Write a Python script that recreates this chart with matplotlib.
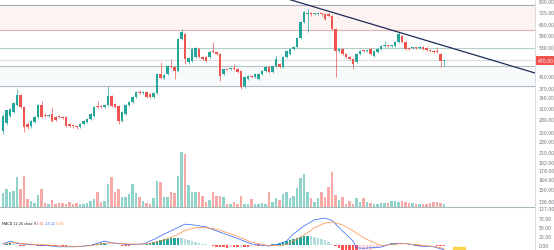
import numpy as np
import matplotlib
matplotlib.use('Agg')
import matplotlib.pyplot as plt
import matplotlib.transforms as mtransforms
from matplotlib.patches import Rectangle

# daily candles (price, log scale)
opens = [252, 271, 288, 299, 318, 347, 312, 268, 264, 273,
         286, 318, 291, 288, 293, 286, 288, 286, 286, 268,
         266, 264, 261, 268, 273, 281, 288, 315, 315, 312,
         318, 344, 321, 315, 276, 293, 318, 326, 341, 357,
         353, 357, 350, 341, 353, 418, 404, 418, 449, 445,
         430, 571, 597, 465, 470, 487, 522, 487, 487, 487,
         510, 509, 500, 418, 437, 436, 437, 437, 430, 376,
         400, 411, 407, 400, 418, 430, 445, 426, 449, 457,
         445, 487, 500, 522, 532, 576, 664, 713, 713, 713,
         712, 713, 713, 713, 700, 624, 513, 522, 500, 487,
         478, 465, 500, 513, 512, 522, 491, 509, 522, 536,
         537, 536, 536, 556, 586, 556, 527, 527, 528, 527,
         532, 527, 518, 513, 509, 500, 470]
closes = [288, 304, 307, 323, 347, 312, 261, 261, 276, 286,
          318, 286, 288, 291, 276, 278, 286, 283, 264, 264,
          264, 261, 268, 276, 281, 293, 312, 312, 312, 318,
          344, 315, 312, 276, 299, 318, 326, 341, 357, 353,
          357, 341, 341, 353, 418, 404, 415, 449, 445, 430,
          571, 607, 478, 482, 522, 527, 487, 478, 470, 509,
          508, 500, 411, 437, 435, 438, 436, 426, 373, 407,
          411, 409, 418, 418, 430, 445, 426, 449, 478, 445,
          487, 513, 522, 532, 576, 664, 726, 715, 711, 714,
          713, 712, 682, 700, 624, 513, 522, 500, 487, 478,
          457, 500, 513, 512, 513, 500, 513, 522, 536, 537,
          536, 538, 556, 597, 556, 522, 522, 528, 527, 528,
          522, 518, 513, 509, 508, 470, 472]
highs = [293, 299, 309, 326, 366, 350, 315, 273, 278, 288,
         321, 329, 296, 293, 312, 288, 291, 288, 288, 271,
         268, 266, 271, 278, 283, 296, 315, 329, 318, 321,
         376, 347, 323, 318, 301, 321, 329, 344, 360, 363,
         360, 360, 353, 357, 422, 465, 418, 453, 478, 449,
         576, 624, 602, 487, 527, 532, 527, 491, 491, 513,
         556, 513, 504, 441, 441, 441, 457, 441, 433, 411,
         415, 415, 422, 422, 433, 449, 449, 453, 491, 461,
         491, 518, 527, 536, 581, 670, 732, 745, 726, 719,
         719, 719, 719, 719, 706, 629, 527, 527, 504, 491,
         482, 504, 518, 518, 518, 527, 518, 527, 541, 561,
         541, 541, 561, 607, 592, 561, 532, 532, 532, 536,
         536, 532, 522, 518, 532, 504, 474]
lows = [246, 266, 286, 296, 315, 309, 250, 257, 259, 271,
        283, 283, 286, 286, 273, 276, 283, 281, 261, 261,
        259, 257, 259, 266, 271, 278, 286, 309, 309, 309,
        315, 312, 309, 268, 273, 291, 315, 323, 338, 350,
        350, 338, 338, 338, 350, 400, 400, 415, 441, 400,
        426, 566, 457, 457, 465, 482, 482, 474, 465, 482,
        504, 495, 393, 415, 433, 433, 433, 422, 366, 369,
        397, 404, 404, 397, 415, 426, 422, 422, 445, 441,
        441, 482, 495, 518, 527, 571, 658, 607, 700, 706,
        706, 700, 676, 694, 618, 407, 509, 495, 482, 474,
        437, 461, 495, 509, 509, 495, 487, 504, 518, 532,
        532, 532, 532, 551, 551, 518, 518, 522, 522, 522,
        518, 513, 509, 504, 504, 445, 449]
# volume in millions
volumes = [1.4, 1.8, 1.5, 1.6, 3.0, 1.8, 3.1, 0.8, 0.6, 0.4,
           1.2, 1.8, 0.4, 0.3, 0.7, 0.3, 0.4, 0.4, 0.3, 0.5,
           0.3, 0.4, 0.3, 0.3, 0.4, 0.6, 0.8, 1.5, 0.5, 0.6,
           2.3, 3.0, 1.5, 1.8, 1.0, 1.0, 1.3, 2.3, 1.4, 1.0,
           0.6, 0.4, 0.3, 0.9, 2.6, 2.5, 1.0, 1.0, 1.5, 1.4,
           3.1, 5.5, 5.3, 2.2, 1.5, 1.5, 1.5, 1.1, 0.5, 0.7,
           1.5, 1.1, 1.1, 1.0, 0.3, 0.3, 0.5, 0.3, 1.1, 0.3,
           0.3, 0.8, 0.3, 0.3, 0.4, 0.3, 1.5, 0.5, 0.9, 0.7,
           1.3, 1.5, 0.9, 1.1, 1.9, 2.9, 3.3, 1.5, 0.9, 0.5,
           0.9, 1.5, 1.0, 2.0, 3.5, 1.2, 0.7, 1.0, 0.3, 0.6,
           0.3, 0.9, 0.5, 0.9, 0.5, 0.4, 0.3, 0.3, 0.4, 0.4,
           0.4, 0.6, 0.6, 0.5, 0.6, 0.5, 0.4, 0.4, 0.3, 0.3,
           0.3, 0.3, 0.4, 0.5, 0.5, 0.4, 0.3]

# MACD 12 26 close 9 (read at a few bars)
macd_idx = [0, 2, 4, 8, 13, 16, 21, 25, 29, 31, 36, 40, 43, 46, 49, 52, 55, 58, 61, 66,
            71, 76, 79, 81, 83, 86, 89, 92, 94, 97, 100, 101, 103, 108, 111, 113, 115, 119, 123, 126]
macd_vals = [3, 11, 4, 1, -2, -5, -5, -1, 11, 6, 1, 3, 15, 30, 44, 58, 55, 50, 39, 22,
             3, -3, 3, 11, 31, 53, 70, 75, 68, 39, 11, -8, -9, -6, 4, 5, 4, -3, -5, -13.22]
signal_idx = [0, 2, 4, 8, 13, 16, 21, 25, 29, 31, 36, 40, 43, 46, 49, 52, 55, 58, 61, 66,
              71, 76, 79, 81, 83, 86, 89, 92, 94, 97, 100, 103, 108, 111, 115, 119, 123, 126]
signal_vals = [2, 6, 6, 2, 0, -3, -4, -2, 5, 6, 3, 2, 6, 14, 25, 40, 48, 48, 44, 28,
               8, -2, -2, 1, 11, 28, 48, 61, 64, 56, 40, 20, -2, 2, 4, 0, -4, -9.61]
hist_vals = [1, 3, 5, 3, -1, -2, -2, -1, -1, -1,
             -2, -2, -2, -2, -3, -3, -2, -2, -2, -1,
             -1, -1, 0, 0, 1, 1, 2, 4, 5, 6,
             4, 1, 0, -1, -2, -2, -2, -1, 0, 0,
             1, 3, 6, 9, 12, 14, 16, 18, 19, 19,
             20, 19, 18, 14, 10, 7, 5, 3, 2, 0,
             -3, -5, -6, -6, -7, -6, -6, -6, -5, -5,
             -5, -4, -3, -3, -2, -1, -1, 2, 4, 5,
             8, 10, 14, 18, 20, 23, 25, 26, 25, 22,
             20, 17, 14, 9, 4, -3, -9, -17, -22, -26,
             -29, -29, -27, -26, -22, -17, -12, -8, -4, -2,
             0, 2, 2, 1, 1, 0, 0, -1, -2, -3,
             -2, -1, -1, -1, -2, -3, -3.61]

# drawn levels and trend line
levels = [772, 618, 527, 475, 449, 376, 128]
level_colors = ['#a9acb5', '#dbb0b0', '#b3cfc9', '#dcdee2', '#b3c3c0', '#b2b5be', '#a9b9b7']
trend_idx = [81.4, 152]
trend_vals = [814, 422]

price_ticks = [800, 725, 650, 590, 530, 410, 370, 340, 310, 280, 250,
               230, 210, 192, 178, 164, 150, 136, 127]
macd_ticks = [0, 25, 50, 75]
last_price = 470
legend_vals = ['-3.61', '-13.22', '-9.61']

W, H = 554, 251
fig = plt.figure(figsize=(W / 100, H / 100), dpi=100)
fig.patch.set_facecolor('white')


def px_box(x0, y0, x1, y1):
    # pixel box with top-left origin -> figure fraction
    return [x0 / W, 1 - y1 / H, (x1 - x0) / W, (y1 - y0) / H]


ax = fig.add_axes(px_box(0, 0, 535, 212))
axv = fig.add_axes(px_box(0, 140, 535, 208), sharex=ax)
axm = fig.add_axes(px_box(0, 213, 535, 251), sharex=ax)

lab_col = '#6a6d78'
for a in (ax, axv, axm):
    for s in ('top', 'left', 'bottom'):
        a.spines[s].set_visible(False)
    a.spines['right'].set_color('#d1d4dc')
    a.spines['right'].set_linewidth(0.6)
    a.tick_params(axis='x', bottom=False, labelbottom=False)

x = np.arange(len(closes))
o = np.array(opens, dtype=float)
c = np.array(closes, dtype=float)
up = c >= o

# price pane
ax.set_yscale('log')
ax.set_ylim(123.9, 814.3)
ax.set_xlim(-0.86, 152)
ax.axhspan(618, 772, color='#fdf3f3', zorder=0, lw=0)
ax.axhspan(376, 449, color='#f7fbfb', zorder=0, lw=0)
for lv, lc in zip(levels, level_colors):
    ax.axhline(lv, color=lc, lw=0.8, zorder=1)

cols = np.where(up, '#26a69a', '#ef5350')
ax.vlines(x, lows, highs, colors=cols, linewidth=0.5, zorder=3)
body_low = np.minimum(o, c)
body_h = np.maximum(np.abs(c - o), body_low * 0.008)
ax.bar(x, body_h, bottom=body_low, width=0.72, color=cols, linewidth=0, zorder=4)

ax.plot(trend_idx, trend_vals, color='#1f2b57', lw=0.9, zorder=5, solid_capstyle='butt')

ax.yaxis.tick_right()
ax.yaxis.set_minor_locator(matplotlib.ticker.NullLocator())
ax.set_yticks(price_ticks)
ax.yaxis.set_major_formatter(matplotlib.ticker.FormatStrFormatter('%.2f'))
ax.tick_params(axis='y', length=0, pad=2.5, labelsize=3.3, labelcolor=lab_col)

trans = mtransforms.blended_transform_factory(ax.transAxes, ax.transData)
ax.text(1.006, last_price, '%.2f' % last_price, transform=trans, fontsize=3.3,
        color='white', va='center', ha='left', clip_on=False, zorder=10,
        bbox=dict(boxstyle='square,pad=0.45', fc='#ef5350', ec='none'))

# volume overlay
axv.patch.set_visible(False)
axv.bar(x, volumes, width=0.75, color=np.where(up, '#8fd3cb', '#f5aaa7'), linewidth=0)
axv.set_ylim(0, 6.8)
axv.set_yticks([])
axv.spines['right'].set_visible(False)

# MACD pane
hist_cols = []
prev = 0
for h in hist_vals:
    if h >= 0:
        hist_cols.append('#26a69a' if h >= prev else '#b2dfdb')
    else:
        hist_cols.append('#ff5252' if h <= prev else '#ffcdd2')
    prev = h
axm.bar(x, hist_vals, width=0.75, color=hist_cols, linewidth=0)
axm.plot(macd_idx, macd_vals, color='#2962ff', lw=0.5)
axm.plot(signal_idx, signal_vals, color='#ff8a3d', lw=0.5)
axm.set_ylim(-13.9, 91.7)
axm.yaxis.tick_right()
axm.set_yticks(macd_ticks)
axm.yaxis.set_major_formatter(matplotlib.ticker.FormatStrFormatter('%.2f'))
axm.tick_params(axis='y', length=0, pad=2.5, labelsize=3.3, labelcolor=lab_col)

fig.text(2 / W, 1 - 224 / H, 'MACD 12 26 close 9', fontsize=2.4, color='#131722', va='center')
for xp, txt, tc in zip([36, 45, 56], legend_vals, ['#ef5350', '#2962ff', '#ff8a3d']):
    fig.text(xp / W, 1 - 224 / H, txt, fontsize=2.4, color=tc, va='center')

# time-axis label peeking in at the bottom
fig.patches.append(Rectangle((453 / W, 0), 12 / W, 3 / H, transform=fig.transFigure,
                             color='#f9d54b'))

fig.savefig('out.png', dpi=100)
